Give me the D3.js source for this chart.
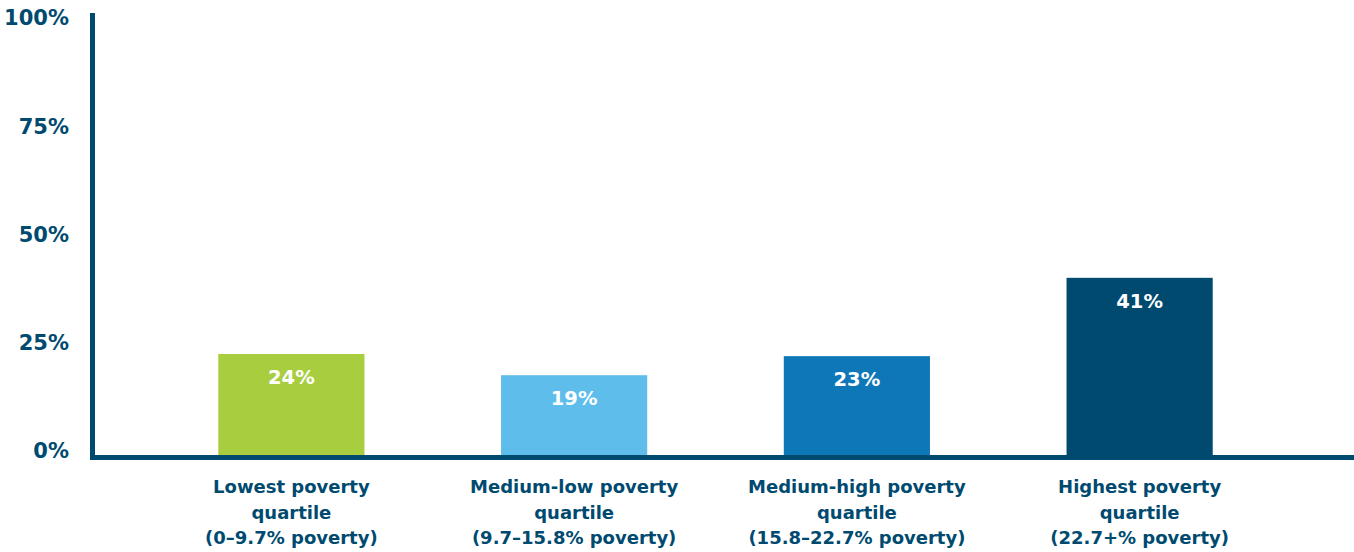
<!DOCTYPE html>
<html>
<head>
<meta charset="utf-8">
<script src="https://cdn.jsdelivr.net/npm/d3@7"></script>
<style>
  html, body { margin: 0; padding: 0; background: #fff; }
  svg text { font-family: "DejaVu Sans", sans-serif; font-weight: bold; }
</style>
</head>
<body>
<div id="chart"></div>
<script>
// Categories (each label split into lines) and values
const categories = ["Lowest", "Medium-low", "Medium-high", "Highest"];
const categoryLines = [
  ["Lowest poverty", "quartile", "(0–9.7% poverty)"],
  ["Medium-low poverty", "quartile", "(9.7–15.8% poverty)"],
  ["Medium-high poverty", "quartile", "(15.8–22.7% poverty)"],
  ["Highest poverty", "quartile", "(22.7+% poverty)"]
];
const values = [23.8, 18.9, 23.3, 41.4];
const barColors = ["#a8ce3f", "#5ebdea", "#0e77b8", "#004a70"];
const yTicks = [0, 25, 50, 75, 100];

const W = 1354, H = 552;
const ink = "#004a70";

const svg = d3.select("#chart").append("svg")
  .attr("width", W)
  .attr("height", H);

// scales
const x = d3.scaleBand()
  .domain(categories)
  .range([150, 1281])
  .paddingInner(0.483)
  .paddingOuter(0.2415);

const y = d3.scaleLinear()
  .domain([0, 100])
  .range([457, 24.2]);

// y tick labels
const yAxis = svg.append("g")
  .attr("transform", "translate(92,0)")
  .call(d3.axisLeft(y).tickValues(yTicks).tickSize(0).tickPadding(23)
    .tickFormat(d => d + "%"));
yAxis.select(".domain").remove();
yAxis.selectAll("text")
  .attr("y", -6)
  .attr("fill", ink)
  .style("font-size", "21px");

// bars
svg.selectAll(".bar")
  .data(values)
  .enter()
  .append("rect")
  .attr("class", "bar")
  .attr("x", (d, i) => x(categories[i]))
  .attr("y", d => y(d))
  .attr("width", x.bandwidth())
  .attr("height", d => y(0) - y(d))
  .attr("fill", (d, i) => barColors[i]);

// value labels inside bars
svg.selectAll(".val")
  .data(values)
  .enter()
  .append("text")
  .attr("class", "val")
  .attr("x", (d, i) => x(categories[i]) + x.bandwidth() / 2)
  .attr("y", d => y(d) + 23)
  .attr("dy", "0.35em")
  .attr("text-anchor", "middle")
  .attr("fill", "#fff")
  .style("font-size", "19.5px")
  .text(d => Math.round(d) + "%");

// axis lines
svg.append("line")
  .attr("x1", 92.5).attr("x2", 92.5)
  .attr("y1", 13).attr("y2", 460)
  .attr("stroke", ink).attr("stroke-width", 5);
svg.append("line")
  .attr("x1", 90).attr("x2", W)
  .attr("y1", 457.5).attr("y2", 457.5)
  .attr("stroke", ink).attr("stroke-width", 5);

// category labels
const xAxis = svg.append("g")
  .attr("transform", "translate(0,460)")
  .call(d3.axisBottom(x).tickSize(0).tickFormat(""));
xAxis.select(".domain").remove();
xAxis.selectAll(".tick text").each(function(d, i) {
  const t = d3.select(this)
    .attr("fill", ink)
    .attr("text-anchor", "middle")
    .attr("y", 0)
    .attr("dy", null)
    .style("font-size", "18px");
  categoryLines[i].forEach((line, k) => {
    t.append("tspan")
      .attr("x", 0)
      .attr("y", 33 + k * 25.5)
      .text(line);
  });
});
</script>
</body>
</html>
